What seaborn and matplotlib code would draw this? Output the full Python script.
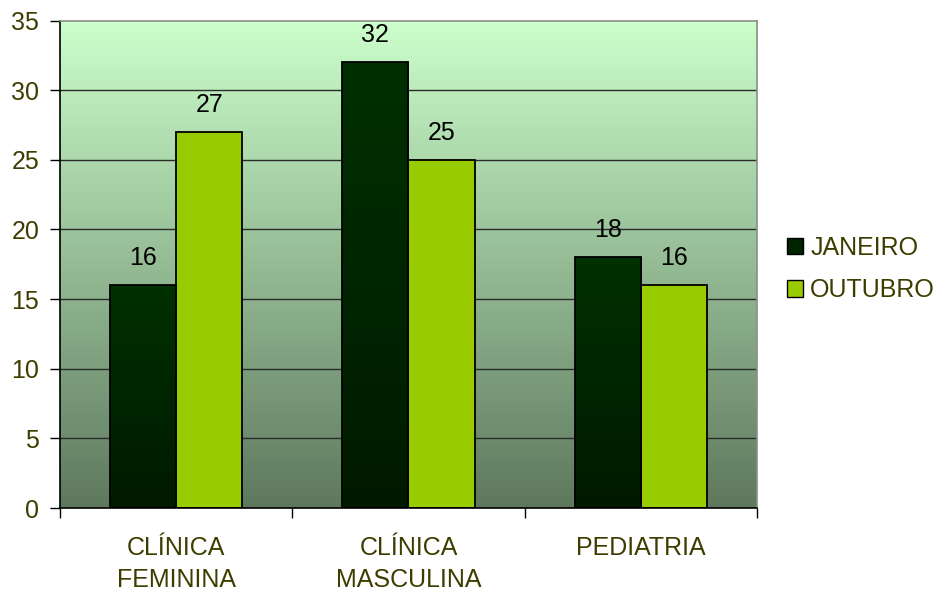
import numpy as np
import pandas as pd
import seaborn as sns
import matplotlib.pyplot as plt
from matplotlib.colors import LinearSegmentedColormap
from matplotlib.patches import Patch

# data
categories = ["CLÍNICA\nFEMININA", "CLÍNICA\nMASCULINA", "PEDIATRIA"]
janeiro = [16, 32, 18]
outubro = [27, 25, 16]
series = ["JANEIRO", "OUTUBRO"]
yticks = [0, 5, 10, 15, 20, 25, 30, 35]

df = pd.DataFrame({
    "setor": categories * 2,
    "valor": janeiro + outubro,
    "mes": [series[0]] * 3 + [series[1]] * 3,
})

sns.set_style("white")
plt.rcParams['font.family'] = ['Liberation Sans', 'DejaVu Sans']

text_col = '#3d3d00'
dark_top, dark_bot = '#003000', '#001a00'
light = '#99cc00'
fs = 18

fig = plt.figure(figsize=(9.42, 5.94), dpi=100)
ax = fig.add_axes([60 / 942, 86 / 594, 697 / 942, 487.5 / 594])

# background gradient of the plot area
bg = LinearSegmentedColormap.from_list("bg", ["#5e785e", "#ccffcc"])
ax.imshow(np.linspace(0, 1, 256).reshape(-1, 1), cmap=bg, origin='lower',
          extent=[0, 1, 0, 1], transform=ax.transAxes, aspect='auto', zorder=0)

sns.barplot(data=df, x="setor", y="valor", hue="mes", hue_order=series,
            palette={series[0]: dark_bot, series[1]: light}, width=0.57,
            edgecolor='black', linewidth=1.3, saturation=1, ax=ax, zorder=3,
            legend=False)

# vertical gradient on the JANEIRO bars
dark = LinearSegmentedColormap.from_list("dk", [dark_bot, dark_top])
for bar in ax.containers[0]:
    x0, y0 = bar.get_x(), bar.get_y()
    w, h = bar.get_width(), bar.get_height()
    im = ax.imshow(np.linspace(0, 1, 64).reshape(-1, 1), cmap=dark, origin='lower',
                   extent=[x0, x0 + w, y0, y0 + h], aspect='auto', zorder=3.5)
    im.set_clip_path(bar)
    bar.set_facecolor('none')
    bar.set_zorder(4)

for cont in ax.containers:
    ax.bar_label(cont, padding=11, fontsize=fs, color='black')

ax.set_xlim(-0.5, 2.5)
ax.set_ylim(0, 35)
ax.set_yticks(yticks)
ax.set_xticks([-0.5, 0.5, 1.5, 2.5])
ax.set_xticklabels([])
ax.set_xticks([0, 1, 2], minor=True)
ax.set_xticklabels(categories, minor=True, fontsize=fs, color=text_col, linespacing=1.45)
ax.tick_params(axis='x', which='major', direction='out', length=7, width=1, color='black', bottom=True)
ax.tick_params(axis='x', which='minor', length=0, pad=20)
ax.tick_params(axis='y', direction='out', length=7, width=1, color='black', left=True,
               labelsize=fs, labelcolor=text_col, pad=8)
ax.set_xlabel("")
ax.set_ylabel("")

for y in yticks[1:-1]:
    ax.axhline(y, color='#2b2b2b', linewidth=1, zorder=1)

ax.spines['left'].set_color('black')
ax.spines['bottom'].set_color('black')
ax.spines['top'].set_color('#8c8c8c')
ax.spines['right'].set_color('#8c8c8c')
for s in ax.spines.values():
    s.set_linewidth(1.2)
    s.set_zorder(5)

handles = [Patch(facecolor='#002400', edgecolor='black', linewidth=1),
           Patch(facecolor=light, edgecolor='black', linewidth=1)]
fig.legend(handles, series, loc='center left', bbox_to_anchor=(774 / 942, 1 - 269 / 594),
           frameon=False, fontsize=fs, labelcolor=text_col, handlelength=0.65,
           handleheight=0.65, handletextpad=0.3, labelspacing=0.75, borderpad=0)

fig.savefig("out.png", dpi=100)
